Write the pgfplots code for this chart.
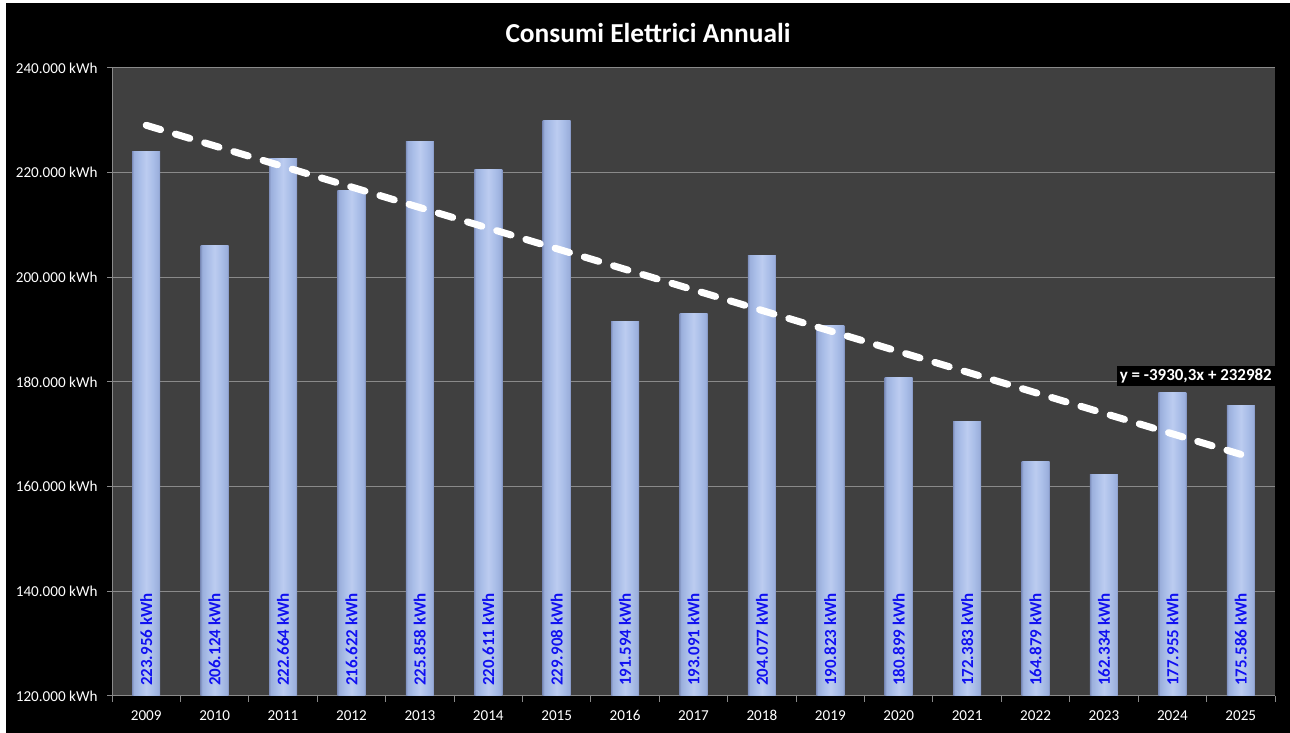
\documentclass[border=0pt]{standalone}
\usepackage{pgfplots}
\pgfplotsset{compat=1.18}
\usepackage{fontspec}
\setmainfont{Carlito}
\definecolor{plotbg}{HTML}{404040}
\definecolor{gridc}{HTML}{8A8A8A}
\definecolor{labblue}{HTML}{1010F0}
\pgfdeclarehorizontalshading{barshade}{100bp}{
  color(0bp)=(rgb,255:red,128;green,145;blue,190);
  color(25bp)=(rgb,255:red,128;green,145;blue,190);
  color(28bp)=(rgb,255:red,155;green,175;blue,220);
  color(38bp)=(rgb,255:red,170;green,190;blue,232);
  color(50bp)=(rgb,255:red,188;green,204;blue,240);
  color(62bp)=(rgb,255:red,170;green,190;blue,232);
  color(72bp)=(rgb,255:red,155;green,175;blue,220);
  color(75bp)=(rgb,255:red,128;green,145;blue,190);
  color(100bp)=(rgb,255:red,128;green,145;blue,190)}
\begin{document}
\begin{tikzpicture}[x=1bp,y=1bp]
\fill[white] (0,0) rectangle (1290,733);
\fill[black] (6,0) rectangle (1290,730);
\node[text=white,font=\fontsize{27.5}{32}\selectfont\bfseries] at (648,700) {Consumi Elettrici Annuali};
\begin{axis}[
  at={(112bp,37bp)}, anchor=south west,
  scale only axis, width=1163bp, height=628bp,
  xmin=0.5, xmax=17.5, ymin=120000, ymax=240000,
  axis background/.style={fill=plotbg},
  axis x line*=bottom, axis y line*=left,
  axis line style={gridc, line width=1bp, -},
  xtick={1,...,17},
  xticklabels={2009,2010,2011,2012,2013,2014,2015,2016,2017,2018,2019,2020,2021,2022,2023,2024,2025},
  major x tick style={draw=none},
  minor xtick={0.5,1.5,...,17.5},
  minor x tick style={gridc, line width=1bp},
  ytick={120000,140000,...,240000},
  scaled y ticks=false,
  yticklabels={120.000 kWh,140.000 kWh,160.000 kWh,180.000 kWh,200.000 kWh,220.000 kWh,240.000 kWh},
  tick align=outside,
  major tick length=5bp, minor tick length=6bp,
  ytick style={gridc, line width=1bp},
  ymajorgrids, major grid style={gridc, line width=1bp},
  tick label style={text=white, font=\fontsize{15.2}{18}\selectfont},
  xticklabel style={yshift=-6bp},
  yticklabel style={xshift=-6bp},
  clip=false,
  bars/.style={ybar, bar width=28bp, draw=none, shading=barshade, bar shift=0pt},
]
\addplot[bars] coordinates {(1,223956)};
\addplot[bars] coordinates {(2,206124)};
\addplot[bars] coordinates {(3,222664)};
\addplot[bars] coordinates {(4,216622)};
\addplot[bars] coordinates {(5,225858)};
\addplot[bars] coordinates {(6,220611)};
\addplot[bars] coordinates {(7,229908)};
\addplot[bars] coordinates {(8,191594)};
\addplot[bars] coordinates {(9,193091)};
\addplot[bars] coordinates {(10,204077)};
\addplot[bars] coordinates {(11,190823)};
\addplot[bars] coordinates {(12,180899)};
\addplot[bars] coordinates {(13,172383)};
\addplot[bars] coordinates {(14,164879)};
\addplot[bars] coordinates {(15,162334)};
\addplot[bars] coordinates {(16,177955)};
\addplot[bars] coordinates {(17,175586)};
\addplot[only marks, mark=none, point meta=explicit symbolic, nodes near coords,
  every node near coord/.style={rotate=90, anchor=west, inner sep=0pt, text=labblue, font=\fontsize{17}{20}\selectfont\bfseries}]
coordinates {(1,121900)[223.956 kWh] (2,121900)[206.124 kWh] (3,121900)[222.664 kWh] (4,121900)[216.622 kWh] (5,121900)[225.858 kWh] (6,121900)[220.611 kWh] (7,121900)[229.908 kWh] (8,121900)[191.594 kWh] (9,121900)[193.091 kWh] (10,121900)[204.077 kWh] (11,121900)[190.823 kWh] (12,121900)[180.899 kWh] (13,121900)[172.383 kWh] (14,121900)[164.879 kWh] (15,121900)[162.334 kWh] (16,121900)[177.955 kWh] (17,121900)[175.586 kWh]};
\addplot[white, line width=7bp, line cap=round, dash pattern=on 15bp off 15.5bp]
coordinates {(1,229051.7) (17,166166.9)};
\node[fill=black, text=white, anchor=east, inner xsep=3bp, inner ysep=3bp, font=\fontsize{17}{20}\selectfont\bfseries] at (axis cs:17.5,181100) {y = -3930,3x + 232982};
\end{axis}
\end{tikzpicture}
\end{document}
